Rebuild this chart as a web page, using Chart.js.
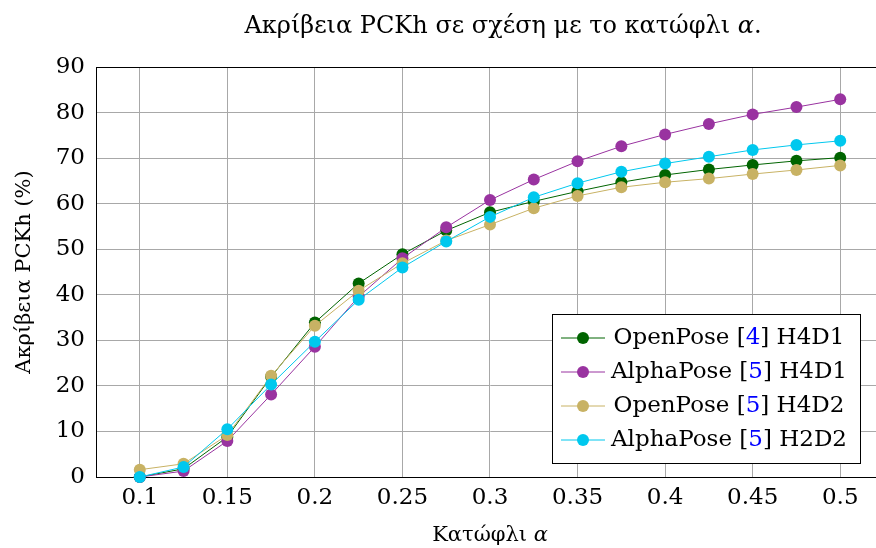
<!DOCTYPE html>
<html>
<head>
<meta charset="utf-8">
<script src="https://cdn.jsdelivr.net/npm/chart.js@4.4.0/dist/chart.umd.min.js"></script>
<style>
  body { margin: 0; background: #fff; overflow: hidden; }
  #wrap { width: 890px; height: 548px; }
</style>
</head>
<body>
<div id="wrap"><canvas id="myChart" width="890" height="548"></canvas></div>
<script>
// threshold values on the x axis
const alphas = [0.1, 0.125, 0.15, 0.175, 0.2, 0.225, 0.25, 0.275, 0.3, 0.325, 0.35, 0.375, 0.4, 0.425, 0.45, 0.475, 0.5];
const xTicks = [0.1, 0.15, 0.2, 0.25, 0.3, 0.35, 0.4, 0.45, 0.5];
const yTicks = [0, 10, 20, 30, 40, 50, 60, 70, 80, 90];

// PCKh accuracy (%)
const openPoseH4D1 = [0, 1.8, 8.8, 22, 33.9, 42.5, 48.9, 54.1, 58.1, 60.5, 62.7, 64.7, 66.3, 67.5, 68.5, 69.4, 70.1];
const alphaPoseH4D1 = [0, 1.3, 7.9, 18.1, 28.6, 39.6, 48.0, 54.8, 60.8, 65.3, 69.3, 72.6, 75.2, 77.5, 79.6, 81.2, 82.9];
const openPoseH4D2 = [1.6, 2.9, 9.2, 22.2, 33.2, 40.9, 46.9, 51.9, 55.4, 59.0, 61.7, 63.6, 64.7, 65.5, 66.5, 67.4, 68.4];
const alphaPoseH2D2 = [0, 2.2, 10.5, 20.3, 29.7, 38.9, 46.0, 51.7, 57.1, 61.4, 64.5, 67.0, 68.8, 70.3, 71.8, 72.9, 73.8];

// legend labels split round the citation number (drawn in blue)
const legendLabels = [
  ["OpenPose [", "4", "] H4D1"],
  ["AlphaPose [", "5", "] H4D1"],
  ["OpenPose [", "5", "] H4D2"],
  ["AlphaPose [", "5", "] H2D2"]
];
const colors = ["#006400", "rgb(153,51,160)", "rgb(200,178,100)", "rgb(0,200,238)"];

const serif = "'DejaVu Serif', serif";

// draw a line of text made of pieces, centred at cx
function drawPieces(ctx, pieces, cx, cy, size) {
  let total = 0;
  pieces.forEach(p => {
    ctx.font = (p.italic ? "italic " : "") + size + "px " + serif;
    p.w = ctx.measureText(p.text).width;
    total += p.w;
  });
  let x = cx - total / 2;
  ctx.textBaseline = "middle";
  ctx.textAlign = "left";
  pieces.forEach(p => {
    ctx.font = (p.italic ? "italic " : "") + size + "px " + serif;
    ctx.fillStyle = p.color || "#000";
    ctx.fillText(p.text, x, cy);
    x += p.w;
  });
}

const extras = {
  id: "extras",
  beforeDatasetsDraw(chart) {
    const ctx = chart.ctx;
    const a = chart.chartArea;
    ctx.save();
    ctx.strokeStyle = "#000";
    ctx.lineWidth = 1;
    ctx.strokeRect(a.left + 0.5, a.top + 0.5, a.right - a.left, a.bottom - a.top);
    ctx.restore();
  },
  afterDraw(chart) {
    const ctx = chart.ctx;
    const a = chart.chartArea;
    ctx.save();
    // title
    drawPieces(ctx, [
      { text: "Ακρίβεια PCKh σε σχέση με το κατώφλι " },
      { text: "α", italic: true },
      { text: "." }
    ], (a.left + a.right) / 2 + 13, 27, 24);
    // x axis label
    drawPieces(ctx, [
      { text: "Κατώφλι " },
      { text: "α", italic: true }
    ], (a.left + a.right) / 2, 536, 21);

    // legend
    const boxW = 308, boxH = 149;
    const bx = a.right - 24 - boxW;
    const by = a.bottom - 14 - boxH;
    ctx.fillStyle = "#fff";
    ctx.fillRect(bx, by, boxW, boxH);
    ctx.strokeStyle = "#000";
    ctx.lineWidth = 1;
    ctx.strokeRect(Math.round(bx) + 0.5, Math.round(by) + 0.5, boxW, boxH);
    for (let i = 0; i < legendLabels.length; i++) {
      const cy = by + 24 + i * 34;
      ctx.strokeStyle = colors[i];
      ctx.lineWidth = 1;
      ctx.beginPath();
      ctx.moveTo(bx + 9, cy);
      ctx.lineTo(bx + 53, cy);
      ctx.stroke();
      ctx.fillStyle = colors[i];
      ctx.beginPath();
      ctx.arc(bx + 31, cy, 6, 0, Math.PI * 2);
      ctx.fill();
      const l = legendLabels[i];
      drawPieces(ctx, [
        { text: l[0] },
        { text: l[1], color: "#0000ff" },
        { text: l[2] }
      ], bx + 177, cy, 23);
    }
    ctx.restore();
  }
};

function makeSet(label, values, color, order) {
  return {
    label: label,
    data: alphas.map((a, i) => ({ x: a, y: values[i] })),
    borderColor: color,
    backgroundColor: color,
    pointBackgroundColor: color,
    pointBorderColor: color,
    pointRadius: 6,
    pointBorderWidth: 0,
    borderWidth: 1,
    tension: 0,
    clip: false,
    order: order
  };
}

const ctx = document.getElementById("myChart");

new Chart(ctx, {
  type: "line",
  data: {
    datasets: [
      makeSet("OpenPose [4] H4D1", openPoseH4D1, colors[0], 4),
      makeSet("AlphaPose [5] H4D1", alphaPoseH4D1, colors[1], 3),
      makeSet("OpenPose [5] H4D2", openPoseH4D2, colors[2], 2),
      makeSet("AlphaPose [5] H2D2", alphaPoseH2D2, colors[3], 1)
    ]
  },
  options: {
    responsive: false,
    animation: false,
    layout: { padding: { top: 67, right: 6, left: 0, bottom: 0 } },
    plugins: {
      legend: { display: false },
      tooltip: { enabled: false },
      title: { display: false }
    },
    scales: {
      x: {
        type: "linear",
        min: 0.075,
        max: 0.525,
        afterBuildTicks: s => { s.ticks = xTicks.map(v => ({ value: v })); },
        afterFit: s => { s.height = 71; },
        ticks: {
          font: { family: serif, size: 23 },
          color: "#000",
          padding: 7,
          maxRotation: 0,
          autoSkip: false,
          callback: v => String(v)
        },
        grid: { color: "#a8a8a8", drawTicks: false },
        border: { color: "#000" }
      },
      y: {
        min: 0,
        max: 90,
        afterBuildTicks: s => { s.ticks = yTicks.map(v => ({ value: v })); },
        afterFit: s => { s.width = 96; },
        ticks: {
          font: { family: serif, size: 23 },
          color: "#000",
          padding: 11,
          callback: v => String(v)
        },
        grid: { color: "#a8a8a8", drawTicks: false },
        border: { color: "#000" },
        title: {
          display: true,
          text: "Ακρίβεια PCKh (%)",
          font: { family: serif, size: 21 },
          color: "#000",
          padding: { top: 12, bottom: 0 }
        }
      }
    }
  },
  plugins: [extras]
});
</script>
</body>
</html>
